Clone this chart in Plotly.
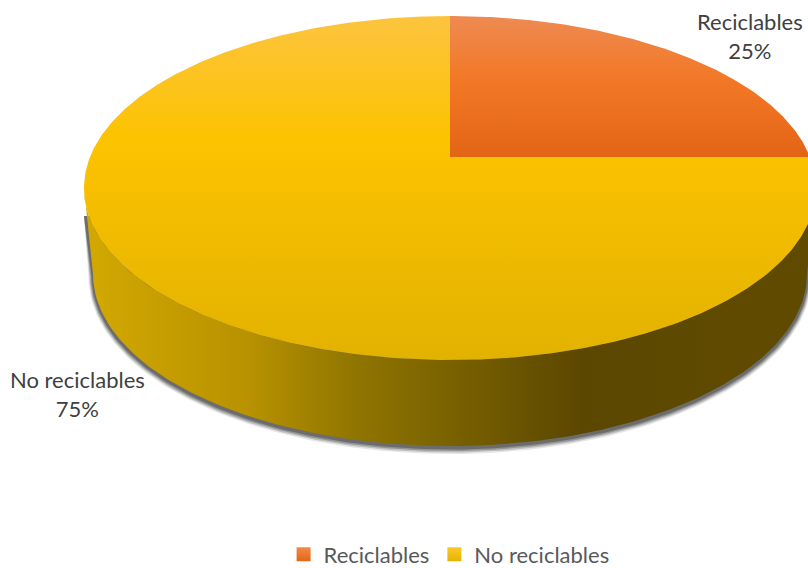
import numpy as np
import plotly.graph_objects as go

categories = ["Reciclables", "No reciclables"]
values = [25, 75]

W, H = 808, 568
CX, CY, RX, RY = 450, 188, 366, 172      # top ellipse
APEX_Y = 157                             # perspective-shifted centre of the pie
BX, BY, BRX, BRY = 450, 274, 357, 172    # bottom ellipse

TOP_SCALES = [
    [[0, "#ee8a52"], [0.45, "#f27826"], [1, "#e26516"]],
    [[0, "#fcc43f"], [0.36, "#fcc300"], [1, "#e2b200"]],
]
SIDE_SCALE = [[0, "#d2a800"], [0.25, "#b89200"], [0.42, "#907500"],
              [0.78, "#5b4700"], [1, "#5f4a00"]]
LEGEND_TOP = ["#f58a45", "#fdc82a"]
LEGEND_BOTTOM = ["#e2661a", "#e6b400"]


def rim(theta):
    """Point on the top ellipse along a pie angle seen from the shifted apex."""
    dx = RX * np.sin(theta)
    dy = -RY * np.cos(theta)
    oy = APEX_Y - CY
    a = (dx / RX) ** 2 + (dy / RY) ** 2
    b = 2 * oy * dy / RY ** 2
    c = (oy / RY) ** 2 - 1
    t = (-b + np.sqrt(b * b - 4 * a * c)) / (2 * a)
    return CX + t * dx, APEX_Y + t * dy


def lower_hull():
    t = np.linspace(np.pi, 0, 181)
    x1 = CX + RX * np.cos(t)
    y1 = CY + RY * np.sin(t)
    x2 = BX + BRX * np.cos(t)[::-1]
    y2 = BY + BRY * np.sin(t)[::-1]
    return np.r_[x1, x2, x1[0]], np.r_[y1, y2, y1[0]]


def shadow_outline(grow, dy, top_y=216):
    t = np.linspace(0, np.pi, 181)
    x = BX + (BRX + grow) * np.cos(t)
    y = BY + dy + (BRY + grow) * np.sin(t)
    return np.r_[CX - RX, CX + RX, x, CX - RX], np.r_[top_y, top_y, y, top_y]


fig = go.Figure()

# soft shadow below the side wall
for grow, dy, alpha in [(4.5, 3.5, 0.12), (3.5, 3.0, 0.22), (2.5, 2.5, 0.3), (1.5, 2.0, 0.4)]:
    sx, sy = shadow_outline(grow, dy)
    fig.add_trace(go.Scatter(x=sx, y=sy, mode="lines", line_width=0, fill="toself",
                             fillcolor=f"rgba(50,50,50,{alpha})", showlegend=False,
                             hoverinfo="skip"))

# side wall
sx, sy = lower_hull()
fig.add_trace(go.Scatter(
    x=sx, y=sy, mode="lines", line_width=0, fill="toself", showlegend=False,
    hoverinfo="skip",
    fillgradient=dict(type="horizontal", start=90, stop=720, colorscale=SIDE_SCALE),
))

# top face: slices taken from the values
total = sum(values)
start = 0.0
for name, val, scale in zip(categories, values, TOP_SCALES):
    end = start + val / total * 2 * np.pi
    th = np.linspace(start, end, max(int(val * 6), 30))
    ex, ey = rim(th)
    x = np.r_[CX, ex, CX]
    y = np.r_[APEX_Y, ey, APEX_Y]
    rng = (16, 157) if val == values[0] else (16, 360)
    fig.add_trace(go.Scatter(
        x=x, y=y, mode="lines", line_width=0, fill="toself", showlegend=False,
        name=name, hoverinfo="skip",
        fillgradient=dict(type="vertical", start=rng[0], stop=rng[1], colorscale=scale),
    ))
    start = end

# legend entries
for name, c0, c1 in zip(categories, LEGEND_TOP, LEGEND_BOTTOM):
    fig.add_trace(go.Scatter(
        x=[None], y=[None], mode="markers", name=name,
        marker=dict(symbol="square", size=14, color=c0,
                    gradient=dict(type="vertical", color=c1)),
    ))

FONT = "Lato, 'Open Sans', sans-serif"
label_pos = [(750, 35.5), (77, 394)]
annotations = [
    dict(x=px, y=py, xref="x", yref="y", showarrow=False,
         text=f"{n}<br>{v / total:.0%}", align="center",
         font=dict(family=FONT, size=22, color="#404040"))
    for n, v, (px, py) in zip(categories, values, label_pos)
]

fig.update_layout(
    width=W, height=H, margin=dict(l=0, r=0, t=0, b=0, autoexpand=False),
    paper_bgcolor="white", plot_bgcolor="white",
    xaxis=dict(range=[0, W], visible=False, fixedrange=True),
    yaxis=dict(range=[H, 0], visible=False, fixedrange=True),
    annotations=annotations,
    legend=dict(orientation="h", x=0.351, xanchor="left", y=-0.013, yanchor="bottom",
                font=dict(family=FONT, size=22, color="#595959"),
                itemwidth=30, bgcolor="rgba(0,0,0,0)"),
)

fig.write_html("out.html", config={"displayModeBar": False},
               post_script="document.body.style.margin='0';document.body.style.overflow='hidden';")
